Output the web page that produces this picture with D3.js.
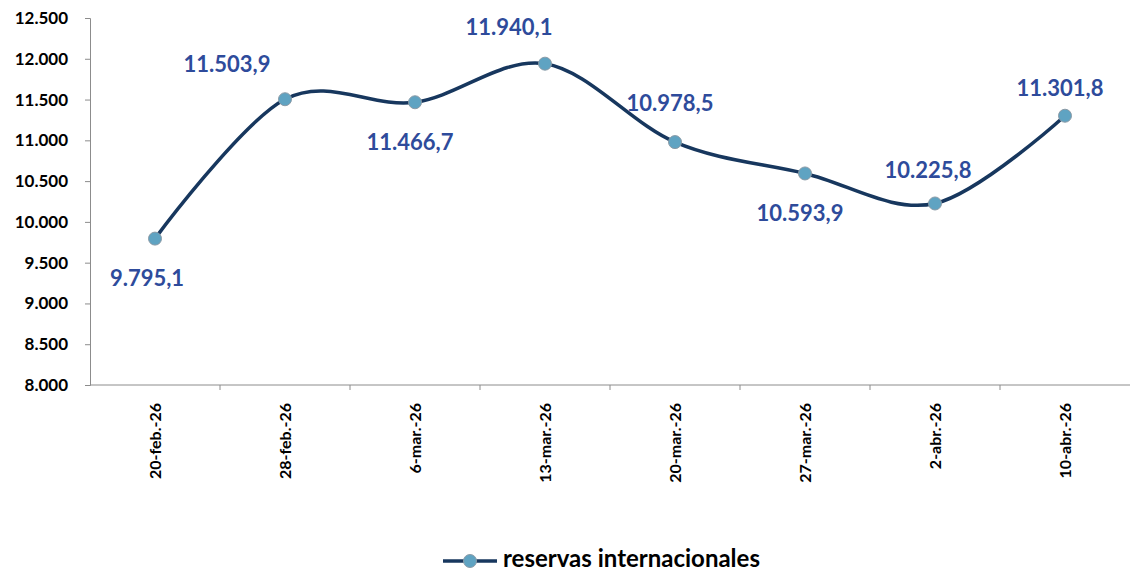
<!DOCTYPE html>
<html>
<head>
<meta charset="utf-8">
<script src="https://cdn.jsdelivr.net/npm/d3@7"></script>
<style>
  body { margin: 0; background: #fff; }
  svg { display: block; }
</style>
</head>
<body>
<div id="chart"></div>
<script>
(function() {

  'use strict'

  // data
  var dates = ['20-feb.-26', '28-feb.-26', '6-mar.-26', '13-mar.-26', '20-mar.-26', '27-mar.-26', '2-abr.-26', '10-abr.-26'];
  var reservas = [9795.1, 11503.9, 11466.7, 11940.1, 10978.5, 10593.9, 10225.8, 11301.8];
  var yTicks = [8000, 8500, 9000, 9500, 10000, 10500, 11000, 11500, 12000, 12500];
  var seriesName = 'reservas internacionales';

  // where each value label sits relative to its point
  var labelPlace = [
    { dx: -8, dy: 47 },
    { dx: -58, dy: -27 },
    { dx: -5, dy: 48 },
    { dx: -36, dy: -29 },
    { dx: -5, dy: -31 },
    { dx: -5, dy: 48 },
    { dx: -7, dy: -25 },
    { dx: -5, dy: -20 }
  ];

  var width = 1139, height = 573;
  var margin = { top: 18, right: 9, bottom: 188, left: 90 };

  var lineColor = '#17375E';
  var markerFill = '#5FA3C2';
  var labelColor = '#2E4B9B';
  var font = 'Lato, "Open Sans", sans-serif';

  var es = d3.formatLocale({ decimal: ',', thousands: '.', grouping: [3], currency: ['', ''] });
  var fmtTick = es.format(',d');
  var fmtVal = es.format(',.1f');

  var svg = d3.select('#chart').append('svg')
    .attr('width', width)
    .attr('height', height);

  var x = d3.scaleBand()
    .domain(dates)
    .range([margin.left, width - margin.right]);

  var y = d3.scaleLinear()
    .domain([8000, 12500])
    .range([height - margin.bottom, margin.top]);

  // y axis
  var yAxis = svg.append('g')
    .attr('transform', 'translate(' + margin.left + ',0)')
    .call(d3.axisLeft(y).tickValues(yTicks).tickFormat(fmtTick).tickSize(5).tickPadding(17));
  yAxis.select('.domain').attr('stroke', '#8c8c8c');
  yAxis.selectAll('.tick line').attr('stroke', '#8c8c8c');
  yAxis.selectAll('text')
    .attr('font-family', font)
    .attr('font-size', '17px')
    .attr('font-weight', 'bold')
    .attr('fill', '#000');

  // x axis, ticks between categories
  var xAxisG = svg.append('g')
    .attr('transform', 'translate(0,' + (height - margin.bottom) + ')');
  xAxisG.append('line')
    .attr('x1', margin.left)
    .attr('x2', width - margin.right)
    .attr('stroke', '#8c8c8c');
  xAxisG.selectAll('line.sep')
    .data(dates.slice(1))
    .enter().append('line')
    .attr('class', 'sep')
    .attr('x1', function(d) { return x(d); })
    .attr('x2', function(d) { return x(d); })
    .attr('y1', 0)
    .attr('y2', 5)
    .attr('stroke', '#8c8c8c');
  xAxisG.selectAll('text')
    .data(dates)
    .enter().append('text')
    .attr('transform', function(d) {
      return 'translate(' + (x(d) + x.bandwidth() / 2 + 6) + ',18) rotate(-90)';
    })
    .attr('text-anchor', 'end')
    .attr('font-family', font)
    .attr('font-size', '16px')
    .attr('font-weight', 'bold')
    .attr('fill', '#000')
    .text(String);

  var cx = function(d, i) { return x(dates[i]) + x.bandwidth() / 2; };

  // series line
  var line = d3.line()
    .x(cx)
    .y(function(d) { return y(d); })
    .curve(d3.curveCardinal.tension(0));

  svg.append('path')
    .datum(reservas)
    .attr('d', line)
    .attr('fill', 'none')
    .attr('stroke', lineColor)
    .attr('stroke-width', 3.5);

  svg.selectAll('circle.pt')
    .data(reservas)
    .enter().append('circle')
    .attr('class', 'pt')
    .attr('cx', cx)
    .attr('cy', function(d) { return y(d); })
    .attr('r', 6.5)
    .attr('fill', markerFill)
    .attr('stroke', '#8a9aa6')
    .attr('stroke-width', 1);

  // value labels
  svg.selectAll('text.val')
    .data(reservas)
    .enter().append('text')
    .attr('class', 'val')
    .attr('x', function(d, i) { return cx(d, i) + labelPlace[i].dx; })
    .attr('y', function(d, i) { return y(d) + labelPlace[i].dy; })
    .attr('text-anchor', 'middle')
    .attr('font-family', font)
    .attr('font-size', '22px')
    .attr('font-weight', 'bold')
    .attr('fill', labelColor)
    .text(function(d) { return fmtVal(d); });

  // legend
  var legend = svg.append('g')
    .attr('transform', 'translate(443,561)');
  legend.append('line')
    .attr('x1', 0)
    .attr('x2', 54)
    .attr('stroke', lineColor)
    .attr('stroke-width', 3.5);
  legend.append('circle')
    .attr('cx', 27)
    .attr('r', 6.5)
    .attr('fill', markerFill)
    .attr('stroke', '#8a9aa6');
  legend.append('text')
    .attr('x', 60)
    .attr('y', 6)
    .attr('font-family', font)
    .attr('font-size', '24px')
    .attr('font-weight', 'bold')
    .attr('fill', '#000')
    .text(seriesName);

})();
</script>
</body>
</html>
